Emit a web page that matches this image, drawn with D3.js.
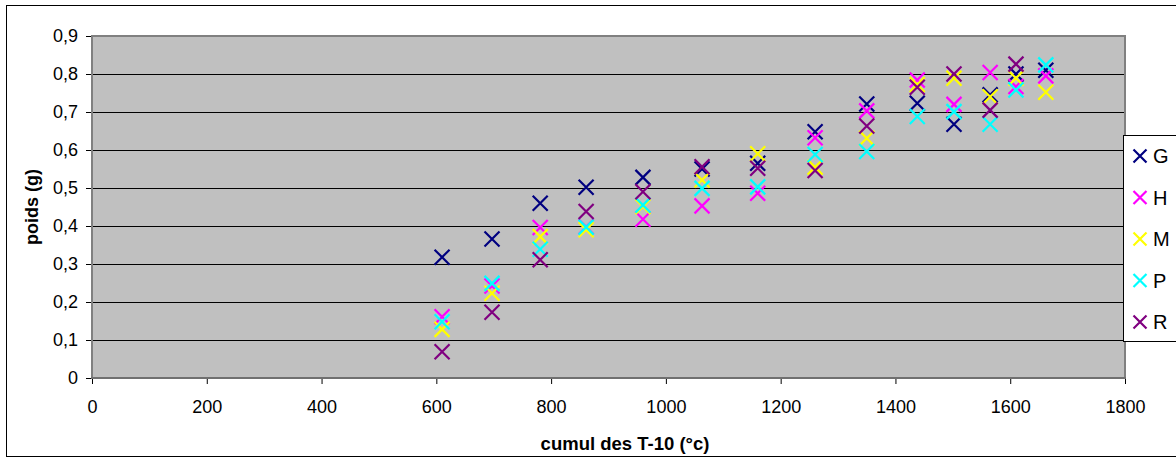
<!DOCTYPE html>
<html>
<head>
<meta charset="utf-8">
<script src="https://cdn.jsdelivr.net/npm/d3@7"></script>
<style>
  html, body { margin: 0; padding: 0; background: #fff; }
  svg { display: block; font-family: "Liberation Sans", Arial, sans-serif; }
</style>
</head>
<body>
<svg id="chart" width="1176" height="462"></svg>
<script>
// Cumulative degree-days (T-10, °C) at each weighing
const degreeDays = [610, 697, 781, 861, 960, 1063, 1160, 1260, 1350, 1438, 1502, 1565, 1610, 1662];

// Weight (g) per series
const seriesNames = ["G", "H", "M", "P", "R"];
const weightG = [0.318, 0.366, 0.460, 0.502, 0.528, 0.550, 0.565, 0.648, 0.721, 0.723, 0.668, 0.745, 0.800, 0.810];
const weightH = [0.161, 0.242, 0.396, 0.398, 0.418, 0.453, 0.486, 0.632, 0.703, 0.784, 0.720, 0.804, 0.767, 0.795];
const weightM = [0.128, 0.223, 0.372, 0.390, 0.451, 0.521, 0.590, 0.555, 0.631, 0.772, 0.789, 0.740, 0.789, 0.752];
const weightP = [0.148, 0.249, 0.339, 0.397, 0.455, 0.499, 0.503, 0.588, 0.596, 0.688, 0.701, 0.668, 0.758, 0.824];
const weightR = [0.069, 0.173, 0.311, 0.438, 0.490, 0.556, 0.552, 0.546, 0.663, 0.765, 0.800, 0.705, 0.826, null];
const seriesColors = ["#000080", "#FF00FF", "#FFFF00", "#00FFFF", "#800080"];

// Axis ticks
const xTicks = [0, 200, 400, 600, 800, 1000, 1200, 1400, 1600, 1800];
const yTicks = [0, 0.1, 0.2, 0.3, 0.4, 0.5, 0.6, 0.7, 0.8, 0.9];
const yTickLabels = ["0", "0,1", "0,2", "0,3", "0,4", "0,5", "0,6", "0,7", "0,8", "0,9"];

const xTitle = "cumul des T-10 (°c)";
const yTitle = "poids (g)";

const series = seriesNames.map((name, i) => ({
  name,
  color: seriesColors[i],
  values: [weightG, weightH, weightM, weightP, weightR][i]
}));

const svg = d3.select("#chart");
const plot = { left: 92, right: 1125, top: 36, bottom: 378 };

const x = d3.scaleLinear().domain([0, 1800]).range([plot.left, plot.right]);
const y = d3.scaleLinear().domain([0, 0.9]).range([plot.bottom, plot.top]);

// Outer chart frame
svg.append("rect")
  .attr("x", 6.5).attr("y", 5.5)
  .attr("width", 1200).attr("height", 451)
  .attr("fill", "#fff").attr("stroke", "#000").attr("stroke-width", 1);

// Plot background
svg.append("rect")
  .attr("x", plot.left).attr("y", plot.top)
  .attr("width", plot.right - plot.left).attr("height", plot.bottom - plot.top)
  .attr("fill", "#C0C0C0");

// Horizontal gridlines
svg.append("g")
  .selectAll("line")
  .data(yTicks.filter(d => d > 0 && d < 0.9))
  .join("line")
  .attr("x1", plot.left).attr("x2", plot.right)
  .attr("y1", d => Math.round(y(d)) + 0.5).attr("y2", d => Math.round(y(d)) + 0.5)
  .attr("stroke", "#000").attr("stroke-width", 1);

// Plot border
svg.append("rect")
  .attr("x", plot.left).attr("y", plot.top)
  .attr("width", plot.right - plot.left).attr("height", plot.bottom - plot.top)
  .attr("fill", "none").attr("stroke", "#808080").attr("stroke-width", 2);

// Axes
const yAxis = d3.axisLeft(y)
  .tickValues(yTicks)
  .tickSize(6)
  .tickPadding(8)
  .tickFormat((d, i) => yTickLabels[i]);

const xAxis = d3.axisBottom(x)
  .tickValues(xTicks)
  .tickSize(6)
  .tickPadding(16)
  .tickFormat(d => String(d));

const gy = svg.append("g").attr("transform", `translate(${plot.left},0)`).call(yAxis);
const gx = svg.append("g").attr("transform", `translate(0,${plot.bottom})`).call(xAxis);

[gx, gy].forEach(g => {
  g.select(".domain").remove();
  g.selectAll(".tick line").attr("stroke", "#000").attr("stroke-width", 1);
  g.selectAll(".tick text")
    .attr("fill", "#000")
    .style("font-size", "18px")
    .style("font-family", "'Liberation Sans', Arial, sans-serif");
});

// Axis lines
svg.append("line")
  .attr("x1", plot.left).attr("x2", plot.left)
  .attr("y1", plot.top).attr("y2", plot.bottom + 1)
  .attr("stroke", "#808080").attr("stroke-width", 2);
svg.append("line")
  .attr("x1", plot.left - 1).attr("x2", plot.right + 1)
  .attr("y1", plot.bottom).attr("y2", plot.bottom)
  .attr("stroke", "#707070").attr("stroke-width", 2);

// Axis titles
svg.append("text")
  .attr("x", 625).attr("y", 450)
  .attr("text-anchor", "middle")
  .style("font-size", "18.5px").style("font-weight", "bold")
  .text(xTitle);

svg.append("text")
  .attr("transform", `translate(38,${(plot.top + plot.bottom) / 2}) rotate(-90)`)
  .attr("text-anchor", "middle")
  .style("font-size", "18px").style("font-weight", "bold")
  .text(yTitle);

// X-shaped marker path
const m = 7.5;
const crossPath = `M${-m},${-m}L${m},${m}M${-m},${m}L${m},${-m}`;

// Scatter markers
const marks = svg.append("g");
series.forEach(s => {
  marks.append("g")
    .selectAll("path")
    .data(degreeDays.map((d, i) => ({ x: d, y: s.values[i] })).filter(p => p.y != null))
    .join("path")
    .attr("transform", p => `translate(${x(p.x)},${y(p.y)})`)
    .attr("d", crossPath)
    .attr("fill", "none")
    .attr("stroke", s.color)
    .attr("stroke-width", 2.2);
});

// Legend
const legend = svg.append("g");
legend.append("rect")
  .attr("x", 1123.5).attr("y", 135.5)
  .attr("width", 80).attr("height", 206)
  .attr("fill", "#fff").attr("stroke", "#000").attr("stroke-width", 1);

const ly = d3.scalePoint().domain(seriesNames).range([156, 322]);
const items = legend.selectAll("g.item")
  .data(series)
  .join("g")
  .attr("class", "item")
  .attr("transform", d => `translate(1140,${ly(d.name)})`);

items.append("path")
  .attr("d", `M-6.5,-6.5L6.5,6.5M-6.5,6.5L6.5,-6.5`)
  .attr("fill", "none")
  .attr("stroke", d => d.color)
  .attr("stroke-width", 2.2);

items.append("text")
  .attr("x", 13).attr("y", 0).attr("dy", "0.36em")
  .style("font-size", "20px")
  .text(d => d.name);
</script>
</body>
</html>
